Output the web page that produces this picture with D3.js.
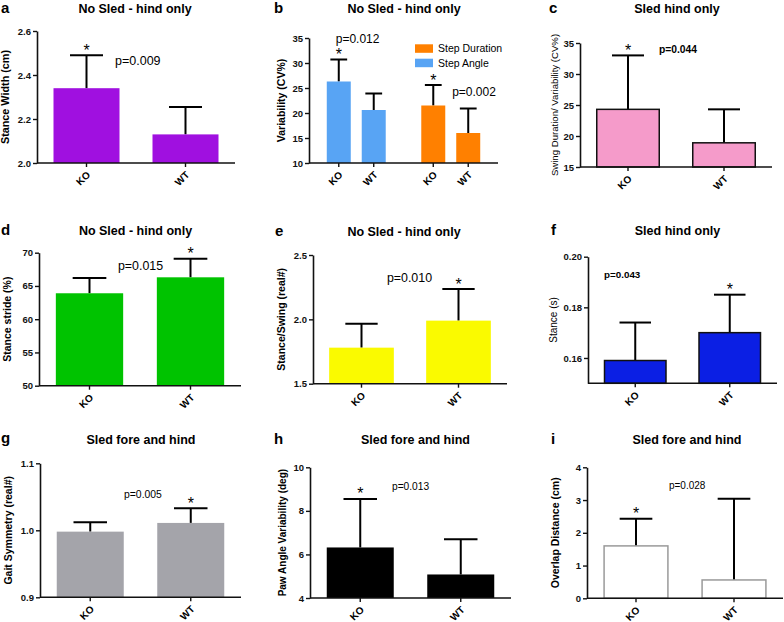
<!DOCTYPE html>
<html>
<head>
<meta charset="utf-8">
<script src="https://cdn.jsdelivr.net/npm/d3@7"></script>
<style>
body { margin: 0; background: #fff; }
svg { font-family: "Liberation Sans", Arial, sans-serif; }
</style>
</head>
<body>
<div id="chart"></div>
<script>
var groups = ["KO", "WT"];
var stepSeries = ["Step Angle", "Step Duration"];

// means and (upper) SD
var stanceWidth = [2.34, 2.13], stanceWidthSd = [0.15, 0.125];
var stepAngle = [26.3, 20.6], stepAngleSd = [4.4, 3.3];
var stepDuration = [21.5, 16.0], stepDurationSd = [4.1, 4.9];
var swingVar = [24.3, 18.9], swingVarSd = [8.7, 5.4];
var stanceStride = [63.9, 66.3], stanceStrideSd = [2.3, 2.8];
var stanceSwing = [1.78, 1.99], stanceSwingSd = [0.185, 0.245];
var stanceTime = [0.159, 0.170], stanceTimeSd = [0.015, 0.015];
var gaitSym = [0.998, 1.011], gaitSymSd = [0.014, 0.022];
var pawAngle = [6.32, 5.08], pawAngleSd = [2.23, 1.62];
var overlap = [1.60, 0.56], overlapSd = [0.83, 2.48];

var ticksA = [2.0, 2.2, 2.4, 2.6];
var ticksB = [10, 15, 20, 25, 30, 35];
var ticksC = [15, 20, 25, 30, 35];
var ticksD = [50, 55, 60, 65, 70];
var ticksE = [1.5, 2.0, 2.5];
var ticksF = [0.16, 0.18, 0.20];
var ticksG = [0.9, 1.0, 1.1];
var ticksH = [4, 6, 8, 10];
var ticksI = [0, 1, 2, 3, 4];

var pTexts = ["p=0.009", "p=0.012", "p=0.002", "p=0.044", "p=0.015", "p=0.010", "p=0.043", "p=0.005", "p=0.013", "p=0.028"];

var panels = [
  { letter: "a", title: "No Sled - hind only", ylabel: "Stance Width (cm)",
    series: [{ name: "a", mean: stanceWidth, sd: stanceWidthSd, fill: "#a010e0" }],
    domain: [2.0, 2.6], ticks: ticksA, fmt: ".1f",
    box: [37, 31, 235, 163], titleX: 135, titleY: 12.5, letterX: 1, letterY: 12.5, labelX: 5.5, labelBold: true, labelSize: 10.8,
    stars: [[0, 0]], p: [{ text: pTexts[0], xf: 0.394, y: 2.464, size: 12.5 }] },
  { letter: "b", title: "No Sled - hind only", ylabel: "Variability (CV%)",
    series: [{ name: stepSeries[0], mean: stepAngle, sd: stepAngleSd, fill: "#58a4f4" },
             { name: stepSeries[1], mean: stepDuration, sd: stepDurationSd, fill: "#ff8000" }],
    domain: [10, 35], ticks: ticksB, fmt: "d",
    box: [309, 38, 498, 163], titleX: 404, titleY: 12.7, letterX: 274, letterY: 12.7, labelX: 281.5, labelBold: true, labelSize: 10.5,
    grouped: true, capFrac: 0.7, legend: true,
    stars: [[0, 0], [1, 0]],
    p: [{ text: pTexts[1], xf: 0.257, y: 34.8, size: 12, anchor: "middle" },
        { text: pTexts[2], xf: 0.873, y: 24.2, size: 12, anchor: "middle" }] },
  { letter: "c", title: "Sled hind only", ylabel: "Swing Duration/ Variability (CV%)",
    series: [{ name: "c", mean: swingVar, sd: swingVarSd, fill: "#f59bca", stroke: "#111" }],
    domain: [15, 35], ticks: ticksC, fmt: "d",
    box: [580, 43, 772, 167], titleX: 677, titleY: 12.7, letterX: 549, letterY: 12.7, labelX: 554.3, labelBold: false, labelSize: 9.6,
    stars: [[0, 0]], p: [{ text: pTexts[3], xf: 0.411, y: 34.03, size: 10.3, bold: true }] },
  { letter: "d", title: "No Sled - hind only", ylabel: "Stance stride (%)",
    series: [{ name: "d", mean: stanceStride, sd: stanceStrideSd, fill: "#00c300" }],
    domain: [50, 70], ticks: ticksD, fmt: "d",
    box: [39, 252.7, 241, 385.7], titleX: 135.5, titleY: 235, letterX: 1, letterY: 235, labelX: 7.5, labelBold: true, labelSize: 10.5,
    stars: [[0, 1]], p: [{ text: pTexts[4], xf: 0.391, y: 68.0, size: 12.4 }] },
  { letter: "e", title: "No Sled - hind only", ylabel: "Stance/Swing (real#)",
    series: [{ name: "e", mean: stanceSwing, sd: stanceSwingSd, fill: "#fafa00" }],
    domain: [1.5, 2.5], ticks: ticksE, fmt: ".1f",
    box: [313, 255, 507, 383.7], titleX: 404, titleY: 235.5, letterX: 275, letterY: 235.5, labelX: 281.3, labelBold: true, labelSize: 10.5,
    stars: [[0, 1]], p: [{ text: pTexts[5], xf: 0.381, y: 2.321, size: 12.4 }] },
  { letter: "f", title: "Sled hind only", ylabel: "Stance (s)",
    series: [{ name: "f", mean: stanceTime, sd: stanceTimeSd, fill: "#0b1fe4", stroke: "#111" }],
    domain: [0.15, 0.20], ticks: ticksF, fmt: ".2f",
    box: [588, 256.7, 777, 383.3], titleX: 677.5, titleY: 235, letterX: 551, letterY: 235, labelX: 553.7, labelBold: false, labelSize: 10,
    stars: [[0, 1]], p: [{ text: pTexts[6], xf: 0.085, y: 0.1931, size: 9.8, bold: true }] },
  { letter: "g", title: "Sled fore and hind", ylabel: "Gait Symmetry (real#)",
    series: [{ name: "g", mean: gaitSym, sd: gaitSymSd, fill: "#a4a4aa" }],
    domain: [0.9, 1.1], ticks: ticksG, fmt: ".1f",
    box: [40, 463.3, 241, 597.3], titleX: 141, titleY: 444, letterX: 1, letterY: 443, labelX: 8, labelBold: true, labelSize: 10.5,
    stars: [[0, 1]], p: [{ text: pTexts[7], xf: 0.418, y: 1.0537, size: 10.4 }] },
  { letter: "h", title: "Sled fore and hind", ylabel: "Paw Angle Variability (deg)",
    series: [{ name: "h", mean: pawAngle, sd: pawAngleSd, fill: "#000" }],
    domain: [4, 10], ticks: ticksH, fmt: "d",
    box: [310, 467.3, 511, 598], titleX: 415.5, titleY: 444.3, letterX: 274, letterY: 444, labelX: 282, labelBold: true, labelSize: 10,
    stars: [[0, 0]], p: [{ text: pTexts[8], xf: 0.408, y: 9.14, size: 10.2 }] },
  { letter: "i", title: "Sled fore and hind", ylabel: "Overlap Distance (cm)",
    series: [{ name: "i", mean: overlap, sd: overlapSd, fill: "#fff", stroke: "#9a9a9a" }],
    domain: [0, 4], ticks: ticksI, fmt: "d",
    box: [587, 467.3, 783, 598.3], titleX: 687, titleY: 444.3, letterX: 551, letterY: 444, labelX: 555, labelBold: true, labelSize: 10.5,
    stars: [[0, 0]], p: [{ text: pTexts[9], xf: 0.418, y: 3.43, size: 10 }] }
];

var svg = d3.select("#chart").append("svg")
  .attr("width", 784)
  .attr("height", 622);

panels.forEach(function(p) {
  var W = p.box[2] - p.box[0];
  var H = p.box[3] - p.box[1];

  // letter + title
  svg.append("text")
    .attr("x", p.letterX).attr("y", p.letterY)
    .attr("font-size", "15px").attr("font-weight", "bold")
    .text(p.letter);
  svg.append("text")
    .attr("x", p.titleX).attr("y", p.titleY)
    .attr("text-anchor", "middle")
    .attr("font-size", "12.5px").attr("font-weight", "bold")
    .text(p.title);

  // y label
  svg.append("text")
    .attr("transform", `translate(${p.labelX}, ${(p.box[1] + p.box[3]) / 2}) rotate(-90)`)
    .attr("text-anchor", "middle")
    .attr("dy", "0.35em")
    .attr("font-size", p.labelSize + "px")
    .attr("font-weight", p.labelBold ? "bold" : "normal")
    .text(p.ylabel);

  var g = svg.append("g")
    .attr("transform", `translate(${p.box[0]}, ${p.box[1]})`);

  var y = d3.scaleLinear().domain(p.domain).range([H, 0]);

  var x0 = d3.scaleBand().domain(p.series.map(s => s.name)).range([0, W]);
  if (p.grouped) x0.paddingInner(0.26).paddingOuter(0.13);
  var x1 = d3.scaleBand().domain(groups).range([0, x0.bandwidth()]);
  if (p.grouped) x1.paddingInner(0.314).paddingOuter(0.157);
  else x1.paddingInner(1 / 3).paddingOuter(1 / 6);

  var bars = [];
  p.series.forEach(function(s, si) {
    groups.forEach(function(gr, gi) {
      bars.push({ si: si, gi: gi, group: gr, mean: s.mean[gi], sd: s.sd[gi], fill: s.fill, stroke: s.stroke,
        x: x0(s.name) + x1(gr), cx: x0(s.name) + x1(gr) + x1.bandwidth() / 2 });
    });
  });
  var bw = x1.bandwidth();
  var cap = (p.capFrac || 0.5) * bw;

  // error bars (upper only)
  g.selectAll(".err")
    .data(bars)
    .enter()
    .append("line")
    .attr("x1", d => d.cx).attr("x2", d => d.cx)
    .attr("y1", d => y(d.mean)).attr("y2", d => y(d.mean + d.sd))
    .attr("stroke", "#000").attr("stroke-width", 2);
  g.selectAll(".cap")
    .data(bars)
    .enter()
    .append("line")
    .attr("x1", d => d.cx - cap / 2).attr("x2", d => d.cx + cap / 2)
    .attr("y1", d => y(d.mean + d.sd)).attr("y2", d => y(d.mean + d.sd))
    .attr("stroke", "#000").attr("stroke-width", 2);

  g.selectAll(".bar")
    .data(bars)
    .enter()
    .append("rect")
    .attr("x", d => d.x + (d.stroke ? 0.75 : 0))
    .attr("width", d => bw - (d.stroke ? 1.5 : 0))
    .attr("y", d => y(d.mean))
    .attr("height", d => H - y(d.mean))
    .attr("fill", d => d.fill)
    .attr("stroke", d => d.stroke || "none")
    .attr("stroke-width", 1.5);

  // y axis
  var yAxis = g.append("g")
    .call(d3.axisLeft(y).tickValues(p.ticks).tickFormat(d3.format(p.fmt)).tickSize(4).tickSizeOuter(0));
  yAxis.select(".domain").attr("stroke", "#111").attr("stroke-width", 1.6);
  yAxis.selectAll(".tick line").attr("stroke", "#111").attr("stroke-width", 1.4);
  yAxis.selectAll(".tick text")
    .attr("font-size", "9.5px").attr("font-weight", "bold")
    .attr("font-family", "Liberation Sans, Arial, sans-serif")
    .attr("fill", "#111").attr("x", -6);

  // x axis
  g.append("line")
    .attr("x1", 0).attr("x2", W)
    .attr("y1", H).attr("y2", H)
    .attr("stroke", "#111").attr("stroke-width", 1.6);
  g.selectAll(".xtick")
    .data(bars)
    .enter()
    .append("line")
    .attr("x1", d => d.cx).attr("x2", d => d.cx)
    .attr("y1", H).attr("y2", H + 4)
    .attr("stroke", "#111").attr("stroke-width", 1.4);
  g.selectAll(".xlabel")
    .data(bars)
    .enter()
    .append("text")
    .attr("x", 0).attr("y", 0)
    .style("transform", d => "translate(" + (d.cx + 2) + "px," + (H + 10) + "px) rotate(-45deg)")
    .attr("text-anchor", "end")
    .attr("dy", "0.35em")
    .attr("font-size", "10px").attr("font-weight", "bold")
    .text(d => d.group);

  // significance stars
  p.stars.forEach(function(st) {
    var b = bars.find(d => d.si == st[0] && d.gi == st[1]);
    g.append("text")
      .attr("x", b.cx).attr("y", y(b.mean + b.sd) + 0.5)
      .attr("text-anchor", "middle")
      .attr("font-size", "16px")
      .text("*");
  });

  // p values
  p.p.forEach(function(t) {
    g.append("text")
      .attr("x", t.xf * W).attr("y", y(t.y))
      .attr("dy", "0.35em")
      .attr("text-anchor", t.anchor || "start")
      .attr("font-size", t.size + "px")
      .attr("font-weight", t.bold ? "bold" : "normal")
      .text(t.text);
  });

  // legend (panel b)
  if (p.legend) {
    var legendItems = p.series.slice().reverse();
    var lg = g.append("g").attr("transform", "translate(106, 6.3)");
    legendItems.forEach(function(s, i) {
      lg.append("rect")
        .attr("x", 0).attr("y", i * 14.4)
        .attr("width", 18).attr("height", 8.5)
        .attr("fill", s.fill);
      lg.append("text")
        .attr("x", 23).attr("y", i * 14.4 + 4.25)
        .attr("dy", "0.35em")
        .attr("font-size", "10.5px")
        .text(s.name);
    });
  }
});
</script>
</body>
</html>
